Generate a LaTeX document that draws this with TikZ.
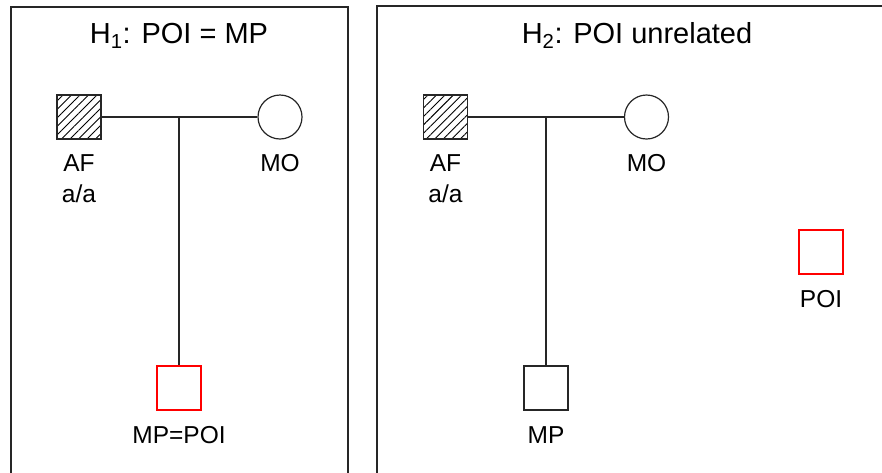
\documentclass[tikz,border=0pt]{standalone}
\usepackage{fontspec}
\setmainfont{Liberation Sans}
\usetikzlibrary{patterns.meta}
\begin{document}
\begin{tikzpicture}[x=1pt,y=-1pt,
  panel/.style={line width=1.3pt,draw=black!85},
  link/.style={line width=1.3pt,draw=black!85},
  male/.style={draw=black!85,line width=1.2pt,rectangle,minimum size=44pt,inner sep=0pt,fill=white},
  affected/.style={male,pattern={Lines[angle=45,distance=6pt,line width=0.9pt]}},
  female/.style={draw=black!85,line width=1.2pt,circle,minimum size=44pt,inner sep=0pt,fill=white},
  poi/.style={male,draw=red},
  lbl/.style={anchor=base,inner sep=0pt,font=\fontsize{24.5}{28}\selectfont},
  ttl/.style={anchor=base,inner sep=0pt,font=\fontsize{29}{34}\selectfont}]
\useasboundingbox (0,0) rectangle (882,472);
\clip (0,0) rectangle (882,472);
% panels
\draw[panel] (11,490) -- (11,7) -- (348,7) -- (348,490);
\draw[panel] (377,490) -- (377,6) -- (900,6);
% titles
\node[ttl] (t1) at (179,43) {H\textsubscript{1}: POI = MP};
\node[ttl] (t2) at (637,43) {H\textsubscript{2}: POI unrelated};
% left pedigree
\node[affected] (af1) at (79,117) {};
\node[female] (mo1) at (280,117) {};
\node[poi] (mp1) at (179,388) {};
\coordinate (j1) at (179,117);
\draw[link] (af1.east) -- (mo1.west);
\draw[link] (j1) -- (mp1.north);
\node[lbl] (af1l) at (79,171) {AF};
\node[lbl] (af1g) at (79,202) {a/a};
\node[lbl] (mo1l) at (280,171) {MO};
\node[lbl] (mp1l) at (179,443) {MP=POI};
% right pedigree
\node[affected] (af2) at (445.5,117) {};
\node[female] (mo2) at (646.5,117) {};
\node[male] (mp2) at (546,388) {};
\node[poi] (poi2) at (821,252) {};
\coordinate (j2) at (546,117);
\draw[link] (af2.east) -- (mo2.west);
\draw[link] (j2) -- (mp2.north);
\node[lbl] (af2l) at (445.5,171) {AF};
\node[lbl] (af2g) at (445.5,202) {a/a};
\node[lbl] (mo2l) at (646.5,171) {MO};
\node[lbl] (mp2l) at (546,443) {MP};
\node[lbl] (poi2l) at (821,307) {POI};
\end{tikzpicture}
\end{document}
